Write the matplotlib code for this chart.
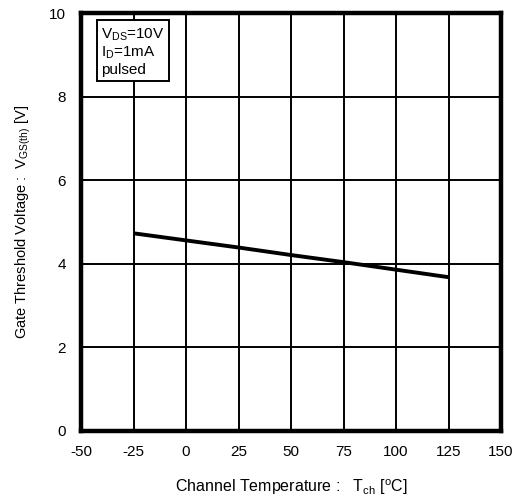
import matplotlib
matplotlib.use("Agg")
from matplotlib import pyplot as plt

plt.rcParams['font.family'] = ['Liberation Sans', 'DejaVu Sans']
plt.rcParams['mathtext.fontset'] = 'custom'
plt.rcParams['mathtext.rm'] = 'Liberation Sans'
plt.rcParams['axes.unicode_minus'] = False

temps = [-25, 0, 25, 50, 75, 100, 125]
vth = [4.73, 4.56, 4.39, 4.21, 4.04, 3.86, 3.68]
xticks = [-50, -25, 0, 25, 50, 75, 100, 125, 150]
yticks = [0, 2, 4, 6, 8, 10]

fig = plt.figure(figsize=(5.25, 4.97), dpi=100)
ax = fig.add_axes([0.1543, 0.1328, 0.80, 0.841])

ax.plot(temps, vth, color='black', lw=2.8, solid_capstyle='butt')

ax.set_xlim(-50, 150)
ax.set_ylim(0, 10)
ax.set_xticks(xticks)
ax.set_yticks(yticks)
ax.tick_params(length=0, labelsize=11)
ax.tick_params(axis='x', pad=10)
ax.tick_params(axis='y', pad=11)
ax.grid(True, color='black', lw=1.4)
ax.set_axisbelow(True)
for s in ax.spines.values():
    s.set_linewidth(3.2)

ax.set_xlabel(r'Channel Temperature :   T$_\mathrm{ch}$ [$^\mathrm{o}$C]', fontsize=11.5, labelpad=13)
ax.set_ylabel(r'Gate Threshold Voltage :  V$_\mathrm{GS(th)}$ [V]', fontsize=10.5, labelpad=11)

ax.text(0.048, 0.969, 'V$_\\mathrm{DS}$=10V\nI$_\\mathrm{D}$=1mA\npulsed',
        transform=ax.transAxes, fontsize=11, va='top', ha='left', linespacing=1.15,
        bbox=dict(boxstyle='square,pad=0.3', fc='white', ec='black', lw=1.4))

fig.savefig('out.png', dpi=100)
